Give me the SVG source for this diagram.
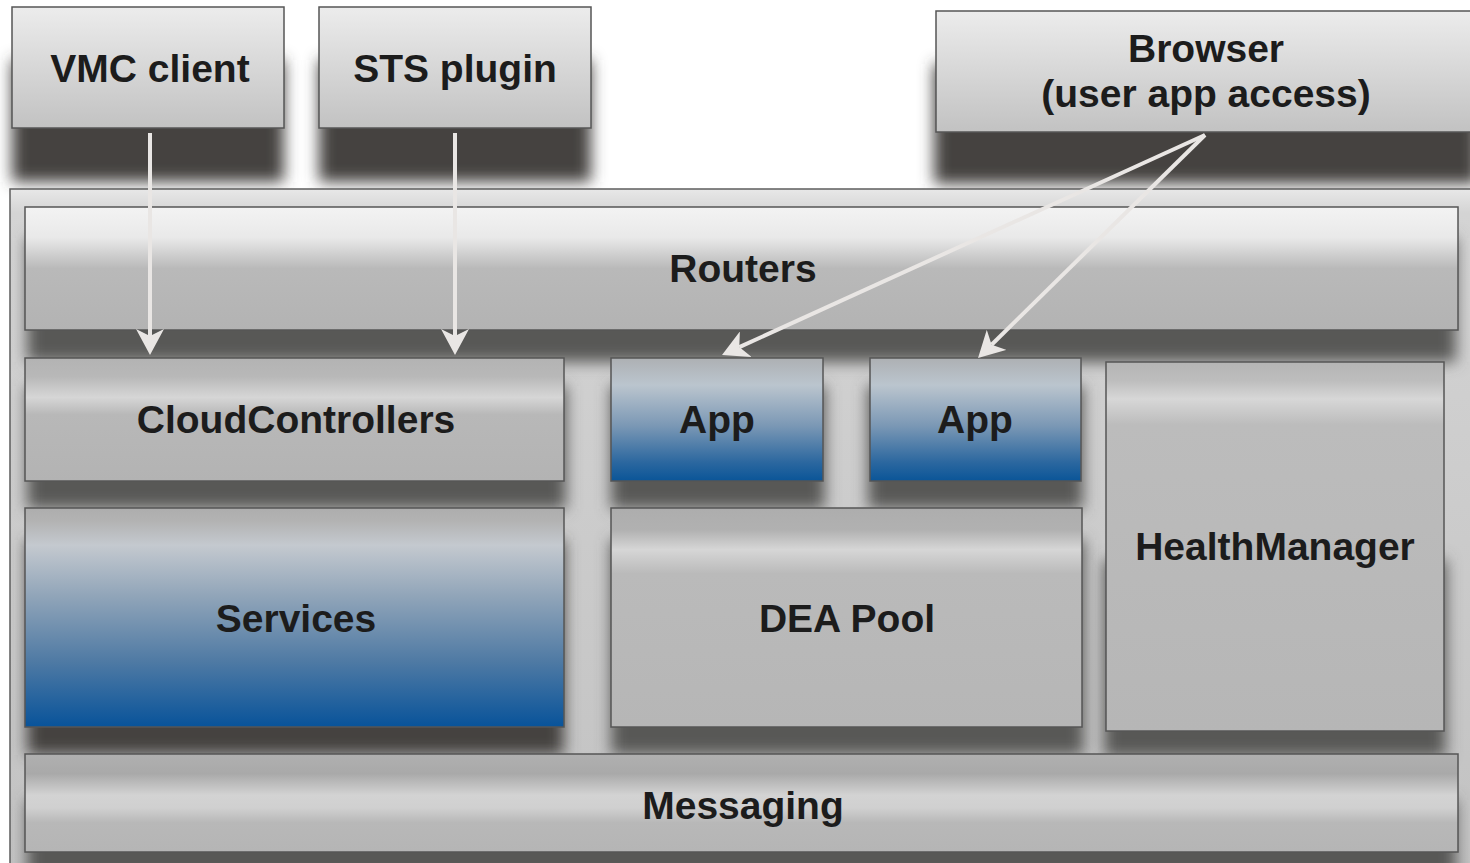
<svg xmlns="http://www.w3.org/2000/svg" width="1470" height="863" viewBox="0 0 1470 863">
<defs>
<style>
.box{stroke:#565656;stroke-width:1.5}
.lbl{font-family:"Liberation Sans",Arial,Helvetica,sans-serif;font-weight:bold;font-size:39px;fill:#1c1c1c;text-anchor:middle}
.sh{filter:url(#blur);fill:#595856}
.shd{filter:url(#blur);fill:#444240}
.conn{stroke:#e9e6e4;stroke-width:4;fill:none;marker-end:url(#ah)}
</style>
<filter id="blur" x="-20%" y="-40%" width="140%" height="180%"><feGaussianBlur stdDeviation="7.5"/></filter>
<marker id="ah" viewBox="0 0 26 28" refX="7" refY="14" markerWidth="26" markerHeight="28" markerUnits="userSpaceOnUse" orient="auto">
<path d="M0,0 L26,14 L0,28 L7,14 Z" fill="#e9e6e4"/>
</marker>
<linearGradient id="gTop" x1="0" y1="0" x2="0" y2="1">
<stop offset="0" stop-color="#ececec"/><stop offset="1" stop-color="#c2c2c2"/>
</linearGradient>
<linearGradient id="gCont" x1="0" y1="0" x2="0" y2="1">
<stop offset="0" stop-color="#e8e8e8"/><stop offset="0.035" stop-color="#d4d4d4"/><stop offset="1" stop-color="#c2c2c2"/>
</linearGradient>
<linearGradient id="gRouters" x1="0" y1="0" x2="0" y2="1">
<stop offset="0" stop-color="#f3f3f3"/><stop offset="0.25" stop-color="#e9e9e9"/><stop offset="0.5" stop-color="#b9b9b9"/><stop offset="1" stop-color="#b3b3b3"/>
</linearGradient>
<linearGradient id="gCC" x1="0" y1="0" x2="0" y2="1">
<stop offset="0" stop-color="#b3b3b3"/><stop offset="0.15" stop-color="#b8b8b8"/><stop offset="0.32" stop-color="#d6d6d6"/><stop offset="0.46" stop-color="#b8b8b8"/><stop offset="1" stop-color="#b3b3b3"/>
</linearGradient>
<linearGradient id="gDEA" x1="0" y1="0" x2="0" y2="1">
<stop offset="0" stop-color="#adadad"/><stop offset="0.1" stop-color="#b1b1b1"/><stop offset="0.19" stop-color="#d6d6d6"/><stop offset="0.3" stop-color="#bababa"/><stop offset="1" stop-color="#b6b6b6"/>
</linearGradient>
<linearGradient id="gHM" x1="0" y1="0" x2="0" y2="1">
<stop offset="0" stop-color="#b5b5b5"/><stop offset="0.05" stop-color="#bdbdbd"/><stop offset="0.1" stop-color="#d7d7d7"/><stop offset="0.17" stop-color="#bcbcbc"/><stop offset="1" stop-color="#b6b6b6"/>
</linearGradient>
<linearGradient id="gMsg" x1="0" y1="0" x2="0" y2="1">
<stop offset="0" stop-color="#b0b0b0"/><stop offset="0.2" stop-color="#a9a9a9"/><stop offset="0.42" stop-color="#d3d3d3"/><stop offset="0.55" stop-color="#d0d0d0"/><stop offset="0.7" stop-color="#b8b8b8"/><stop offset="1" stop-color="#b5b5b5"/>
</linearGradient>
<linearGradient id="gSvc" x1="0" y1="0" x2="0" y2="1">
<stop offset="0" stop-color="#adadad"/><stop offset="0.06" stop-color="#b3b3b3"/><stop offset="0.17" stop-color="#c4c9cf"/><stop offset="0.4" stop-color="#91a5b9"/><stop offset="0.7" stop-color="#4f7aa4"/><stop offset="1" stop-color="#08539a"/>
</linearGradient>
<linearGradient id="gApp" x1="0" y1="0" x2="0" y2="1">
<stop offset="0" stop-color="#adb0b3"/><stop offset="0.22" stop-color="#bbc5ce"/><stop offset="0.55" stop-color="#7b98b5"/><stop offset="0.85" stop-color="#2b679f"/><stop offset="1" stop-color="#0a5598"/>
</linearGradient>
</defs>

<rect x="0" y="0" width="1470" height="863" fill="#ffffff"/>

<!-- top box shadows -->
<rect class="shd" x="12" y="60" width="272" height="122"/>
<rect class="shd" x="319" y="60" width="272" height="122"/>
<rect class="shd" x="934" y="64" width="544" height="120"/>

<g id="vmc-client">
<rect class="box" x="12" y="7" width="272" height="121" fill="url(#gTop)"/>
<text class="lbl" x="150" y="82">VMC client</text>
</g>
<g id="sts-plugin">
<rect class="box" x="319" y="7" width="272" height="121" fill="url(#gTop)"/>
<text class="lbl" x="455" y="82">STS plugin</text>
</g>
<g id="browser">
<rect class="box" x="936" y="11" width="540" height="121" fill="url(#gTop)"/>
<text class="lbl" x="1206" y="62">Browser</text>
<text class="lbl" x="1206" y="107">(user app access)</text>
</g>

<g id="container">
<rect x="10" y="189" width="1470" height="680" fill="url(#gCont)" stroke="#5e5e5e" stroke-width="1.5"/>
</g>

<!-- inner shadows -->
<rect class="sh" x="27" y="238" width="1429" height="124"/>
<rect class="sh" x="27" y="386" width="539" height="123"/>
<rect class="sh" x="611" y="386" width="214" height="123"/>
<rect class="sh" x="868" y="386" width="215" height="123"/>
<rect class="shd" x="27" y="540" width="537" height="215"/>
<rect class="sh" x="611" y="540" width="473" height="215"/>
<rect class="sh" x="1104" y="560" width="342" height="197"/>
<rect class="sh" x="27" y="800" width="1429" height="80"/>

<g id="routers">
<rect class="box" x="25" y="207" width="1433" height="123" fill="url(#gRouters)"/>
<text class="lbl" x="743" y="282">Routers</text>
</g>
<g id="cloudcontrollers">
<rect class="box" x="25" y="358" width="539" height="123" fill="url(#gCC)"/>
<text class="lbl" x="296" y="433">CloudControllers</text>
</g>
<g id="app1">
<rect class="box" x="611" y="358" width="212" height="123" fill="url(#gApp)"/>
<text class="lbl" x="717" y="433">App</text>
</g>
<g id="app2">
<rect class="box" x="870" y="358" width="211" height="123" fill="url(#gApp)"/>
<text class="lbl" x="975" y="433">App</text>
</g>
<g id="healthmanager">
<rect class="box" x="1106" y="362" width="338" height="369" fill="url(#gHM)"/>
<text class="lbl" x="1275" y="560">HealthManager</text>
</g>
<g id="services">
<rect class="box" x="25" y="508" width="539" height="219" fill="url(#gSvc)"/>
<text class="lbl" x="296" y="632">Services</text>
</g>
<g id="dea-pool">
<rect class="box" x="611" y="508" width="471" height="219" fill="url(#gDEA)"/>
<text class="lbl" x="847" y="632">DEA Pool</text>
</g>
<g id="messaging">
<rect class="box" x="25" y="754" width="1433" height="98" fill="url(#gMsg)"/>
<text class="lbl" x="743" y="819">Messaging</text>
</g>

<g id="connectors">
<line class="conn" x1="150" y1="133" x2="150" y2="336"/>
<line class="conn" x1="455" y1="133" x2="455" y2="336"/>
<line class="conn" x1="1205" y1="135" x2="739.3" y2="347.1"/>
<line class="conn" x1="1205" y1="135" x2="991.6" y2="344.7"/>
</g>
</svg>
